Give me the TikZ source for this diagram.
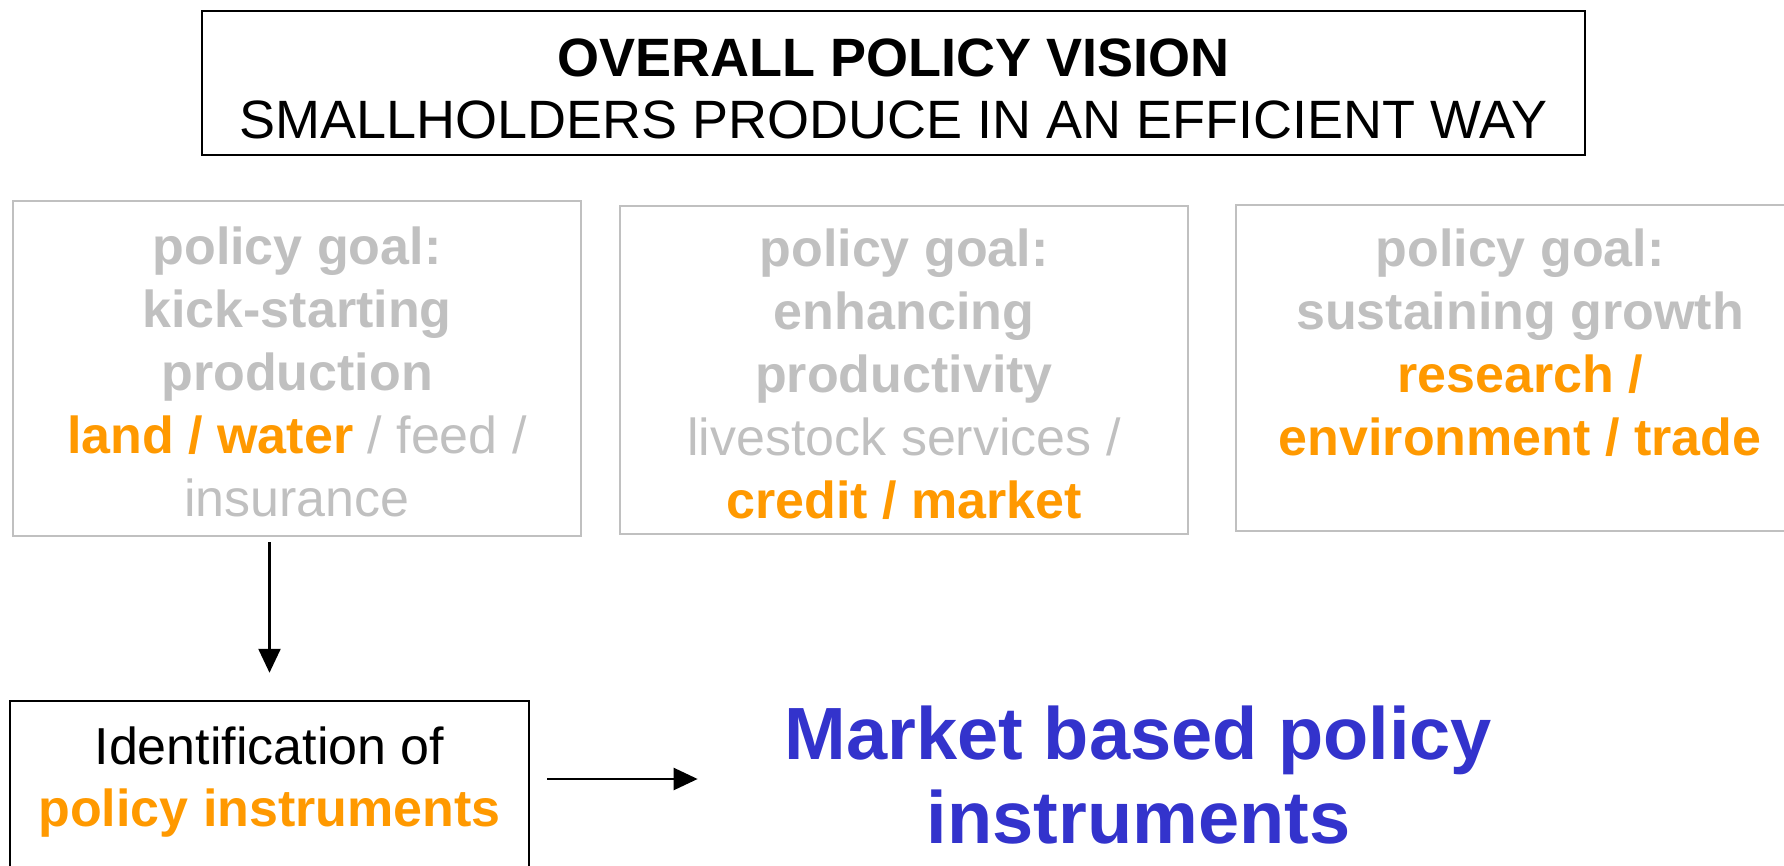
\documentclass[tikz,border=0pt]{standalone}
\usepackage{fontspec}
\setmainfont{Liberation Sans}
\usetikzlibrary{arrows.meta}
\definecolor{goalgray}{HTML}{C0C0C0}
\definecolor{orng}{HTML}{FF9900}
\definecolor{mktblue}{HTML}{3333CC}
\begin{document}
\begin{tikzpicture}[x=1pt, y=-1pt,
		vision/.style = {draw, line width=2.5pt, minimum width=1383pt, minimum height=144pt, align=center, inner sep=0pt, text height=112pt, font=\fontsize{54}{62}\selectfont},
		goal/.style = {draw=goalgray, line width=2pt, minimum width=568pt, inner sep=0pt},
		goaltext/.style = {anchor=north, align=center, inner sep=0pt, text=goalgray, font=\fontsize{52}{63}\selectfont},
		instr/.style = {draw, line width=2.5pt, minimum width=519pt, minimum height=182pt, align=center, inner sep=0pt, text depth=30pt, font=\fontsize{52}{62}\selectfont},
		arr/.style = {-{Triangle[length=24pt,width=22pt]}, line width=2.5pt}]
	\useasboundingbox (0,0) rectangle (1784,866);
	\node[vision] (vision) at (893.5,83) {\textbf{OVERALL POLICY VISION}\\SMALLHOLDERS PRODUCE IN AN EFFICIENT WAY};
	\node[goal, minimum height=335pt] (g1) at (297,368.5) {};
	\node[goal, minimum height=328pt] (g2) at (904,370) {};
	\node[goal, minimum height=326pt] (g3) at (1520,368) {};
	\node[goaltext] (t1) at ([yshift=-27pt]g1.north) {\textbf{policy goal:}\\\textbf{kick-starting}\\\textbf{production}\\\textcolor{orng}{\textbf{land / water}} / feed /\\insurance};
	\node[goaltext] (t2) at ([yshift=-24pt]g2.north) {\textbf{policy goal:}\\\textbf{enhancing}\\\textbf{productivity}\\livestock services /\\\textcolor{orng}{\textbf{credit / market}}};
	\node[goaltext] (t3) at ([yshift=-25pt]g3.north) {\textbf{policy goal:}\\\textbf{sustaining growth}\\\textcolor{orng}{\textbf{research /}}\\\textcolor{orng}{\textbf{environment / trade}}};
	\node[instr] (ib) at (269.5,792) {Identification of\\\textcolor{orng}{\textbf{policy instruments}}};
	\node[anchor=north, align=center, inner sep=0pt, text=mktblue, font=\fontsize{74}{84}\selectfont\bfseries] (mk) at (1138.5,706) {Market based policy\\instruments};
	\coordinate (arrstart) at ([yshift=13pt]ib.east);
	\draw[arr, shorten <=5pt, shorten >=27pt] (g1.south -| ib.north) -- (ib.north);
	\draw[arr, shorten <=17pt, shorten >=87pt] (arrstart) -- (arrstart -| mk.west);
\end{tikzpicture}
\end{document}
